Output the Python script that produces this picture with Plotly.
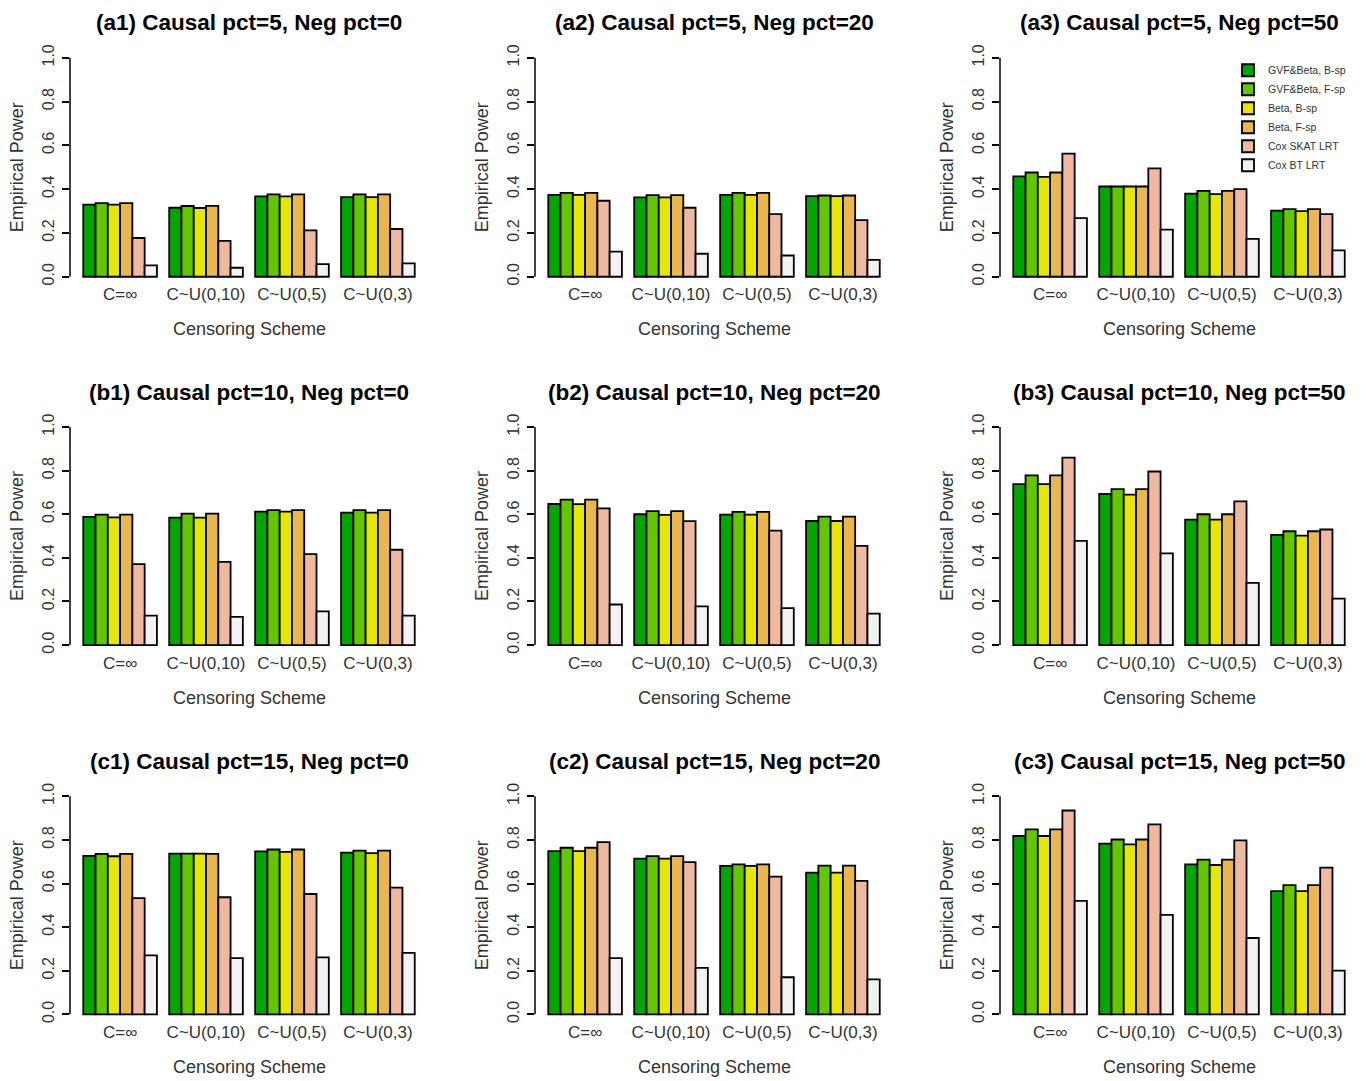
import plotly.graph_objects as go

# ---------------- data ----------------
methods = ["GVF&Beta, B-sp", "GVF&Beta, F-sp", "Beta, B-sp", "Beta, F-sp",
           "Cox SKAT LRT", "Cox BT LRT"]
colors = ["#00A600", "#63C600", "#E6E600", "#EAB64E", "#EEB99F", "#F2F2F2"]
schemes = ["C=∞", "C~U(0,10)", "C~U(0,5)", "C~U(0,3)"]
causal_pct = [5, 10, 15]
neg_pct = [0, 20, 50]
panel_ids = [["a1", "a2", "a3"], ["b1", "b2", "b3"], ["c1", "c2", "c3"]]

# rows = methods (same order as `methods`), columns = censoring schemes
power_a1 = [[0.329, 0.315, 0.367, 0.364],
            [0.336, 0.323, 0.376, 0.376],
            [0.329, 0.314, 0.367, 0.364],
            [0.336, 0.324, 0.376, 0.376],
            [0.177, 0.164, 0.212, 0.218],
            [0.052, 0.041, 0.058, 0.061]]
power_a2 = [[0.374, 0.362, 0.374, 0.368],
            [0.383, 0.373, 0.383, 0.371],
            [0.374, 0.362, 0.374, 0.368],
            [0.383, 0.373, 0.383, 0.371],
            [0.347, 0.315, 0.286, 0.259],
            [0.115, 0.105, 0.097, 0.077]]
power_a3 = [[0.458, 0.412, 0.380, 0.302],
            [0.476, 0.412, 0.392, 0.309],
            [0.456, 0.412, 0.377, 0.300],
            [0.476, 0.412, 0.392, 0.309],
            [0.562, 0.495, 0.400, 0.286],
            [0.268, 0.215, 0.173, 0.120]]
power_b1 = [[0.588, 0.584, 0.612, 0.607],
            [0.598, 0.603, 0.619, 0.619],
            [0.586, 0.584, 0.612, 0.607],
            [0.598, 0.603, 0.619, 0.619],
            [0.371, 0.381, 0.417, 0.437],
            [0.135, 0.129, 0.154, 0.135]]
power_b2 = [[0.647, 0.600, 0.598, 0.569],
            [0.667, 0.614, 0.611, 0.589],
            [0.646, 0.597, 0.598, 0.569],
            [0.667, 0.614, 0.611, 0.589],
            [0.627, 0.568, 0.525, 0.455],
            [0.186, 0.177, 0.169, 0.144]]
power_b3 = [[0.738, 0.693, 0.575, 0.505],
            [0.778, 0.715, 0.600, 0.522],
            [0.738, 0.690, 0.575, 0.502],
            [0.778, 0.715, 0.600, 0.522],
            [0.860, 0.796, 0.659, 0.530],
            [0.478, 0.420, 0.285, 0.213]]
power_c1 = [[0.727, 0.737, 0.747, 0.742],
            [0.736, 0.737, 0.756, 0.751],
            [0.725, 0.737, 0.745, 0.739],
            [0.736, 0.736, 0.756, 0.751],
            [0.533, 0.537, 0.552, 0.581],
            [0.270, 0.258, 0.261, 0.282]]
power_c2 = [[0.749, 0.714, 0.681, 0.650],
            [0.764, 0.726, 0.688, 0.682],
            [0.749, 0.714, 0.681, 0.650],
            [0.764, 0.726, 0.688, 0.682],
            [0.790, 0.698, 0.632, 0.612],
            [0.258, 0.213, 0.170, 0.160]]
power_c3 = [[0.818, 0.783, 0.688, 0.565],
            [0.848, 0.802, 0.710, 0.593],
            [0.818, 0.780, 0.685, 0.565],
            [0.848, 0.802, 0.710, 0.593],
            [0.935, 0.871, 0.798, 0.673],
            [0.520, 0.456, 0.350, 0.200]]

y_ticks = [0.0, 0.2, 0.4, 0.6, 0.8, 1.0]
y_tick_text = ["0.0", "0.2", "0.4", "0.6", "0.8", "1.0"]

panels = {"a1": power_a1, "a2": power_a2, "a3": power_a3,
          "b1": power_b1, "b2": power_b2, "b3": power_b3,
          "c1": power_c1, "c2": power_c2, "c3": power_c3}

# ---------------- layout geometry (pixels) ----------------
W, H = 1366, 1081
col_left = [70, 535, 1000]
col_w = 358
row_one = [53, 424, 795]     # pixel of value 1.0
row_zero = [273, 643, 1014]  # pixel of value 0.0
ext = 0.04

FONT = "Liberation Sans, Arial, Helvetica, sans-serif"
TXT = "#333333"

fig = go.Figure()
layout = dict(
    width=W, height=H,
    margin=dict(l=0, r=0, t=0, b=0),
    paper_bgcolor="white", plot_bgcolor="white",
    barmode="group", bargap=1 / 7, bargroupgap=0,
    font=dict(family=FONT, color=TXT),
    showlegend=True,
    legend=dict(x=1228 / W, y=1 - 51 / H, xanchor="left", yanchor="top",
                bgcolor="rgba(0,0,0,0)", font=dict(size=10.5, color=TXT),
                tracegroupgap=0, itemwidth=30),
)
annotations = []
shapes = []

xr = 4.08 / 7
k = 0
for r in range(3):
    for c in range(3):
        k += 1
        pid = panel_ids[r][c]
        data = panels[pid]
        xa = "x" if k == 1 else f"x{k}"
        ya = "y" if k == 1 else f"y{k}"
        span = row_zero[r] - row_one[r]
        top = row_one[r] - ext * span
        bot = row_zero[r] + ext * span
        x0 = col_left[c]
        layout["xaxis" if k == 1 else f"xaxis{k}"] = dict(
            domain=[x0 / W, (x0 + col_w) / W], anchor=ya,
            range=[-xr, 3 + xr], showgrid=False, zeroline=False, showline=False,
            tickmode="array", tickvals=[0, 1, 2, 3], ticktext=schemes,
            ticks="", ticklabelstandoff=-3,
            tickfont=dict(size=17, color=TXT, family=FONT),
            fixedrange=True)
        layout["yaxis" if k == 1 else f"yaxis{k}"] = dict(
            domain=[(H - bot) / H, (H - top) / H], anchor=xa,
            range=[-ext, 1 + ext], showgrid=False, zeroline=False, showline=False,
            tickmode="array", tickvals=y_ticks, ticktext=y_tick_text,
            ticks="outside", ticklen=7, tickwidth=1.5, tickcolor="black",
            tickangle=-90, ticklabelstandoff=2,
            tickfont=dict(size=16, color=TXT, family=FONT), fixedrange=True)
        for m in range(6):
            fig.add_trace(go.Bar(
                x=[0, 1, 2, 3], y=data[m], name=methods[m],
                marker=dict(color=colors[m], line=dict(color="black", width=1.8)),
                xaxis=xa, yaxis=ya, legendgroup=methods[m],
                showlegend=(pid == "a3"), hoverinfo="x+y+name"))
        # y axis line spanning 0..1 like R's axis()
        shapes.append(dict(type="line", xref=f"{xa} domain", yref=ya,
                           x0=0, x1=0, y0=0, y1=1,
                           line=dict(color="black", width=1.5)))
        cx = (x0 + col_w / 2) / W
        annotations.append(dict(
            text=f"<b>({pid}) Causal pct={causal_pct[r]}, Neg pct={neg_pct[c]}</b>",
            x=cx, y=1 - (row_one[r] - 35) / H, xref="paper", yref="paper",
            xanchor="center", yanchor="middle", showarrow=False,
            font=dict(size=22.5, color="black", family=FONT)))
        annotations.append(dict(
            text="Censoring Scheme", x=cx, y=1 - (row_zero[r] + 53) / H,
            xref="paper", yref="paper", xanchor="center", yanchor="middle",
            showarrow=False, font=dict(size=18, color=TXT, family=FONT)))
        annotations.append(dict(
            text="Empirical Power", x=(x0 - 53) / W,
            y=1 - ((row_zero[r] + row_one[r]) / 2) / H,
            xref="paper", yref="paper", xanchor="center", yanchor="middle",
            textangle=-90, showarrow=False,
            font=dict(size=18, color=TXT, family=FONT)))

layout["annotations"] = annotations
layout["shapes"] = shapes
fig.update_layout(**layout)

fig.write_html("out.html", include_plotlyjs=True,
               config={"displayModeBar": False},
               post_script="document.body.style.margin='0';")
